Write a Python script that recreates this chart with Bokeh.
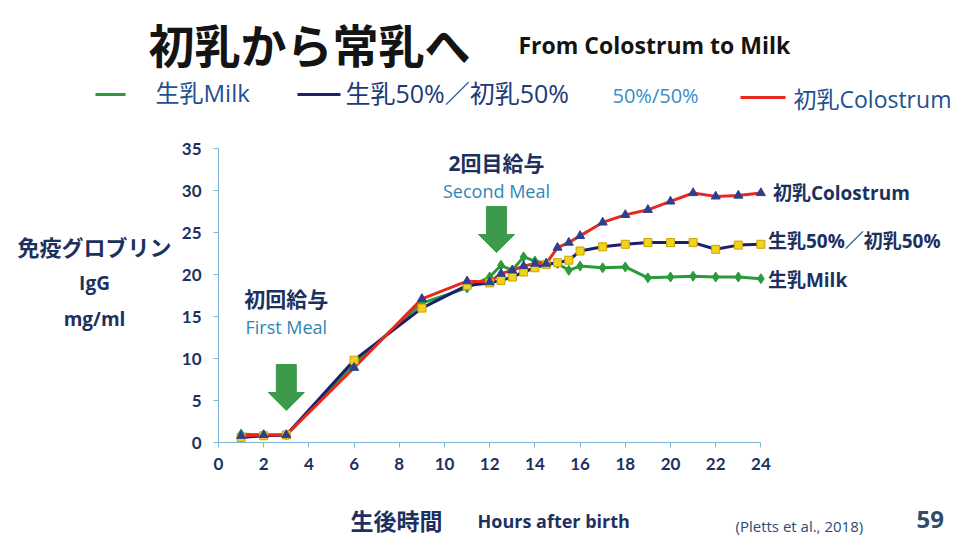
from bokeh.plotting import figure
from bokeh.layouts import column
from bokeh.models import Range1d, FixedTicker
from bokeh.core.properties import value
from bokeh.embed import file_html
from bokeh.resources import INLINE

# ---- data: serum IgG (mg/ml) by hours after birth ----
hours = [1, 2, 3, 6, 9, 11, 12, 12.5, 13, 13.5, 14, 14.5, 15, 15.5,
         16, 17, 18, 19, 20, 21, 22, 23, 24]
milk = [1.0, 0.9, 0.9, 9.4, 16.6, 18.4, 19.7, 21.1, 20.5, 22.1, 21.6, 21.3,
        21.3, 20.5, 21.0, 20.8, 20.9, 19.6, 19.7, 19.8, 19.7, 19.7, 19.5]
blend = [0.6, 0.8, 0.9, 9.8, 16.0, 18.7, 19.0, 19.3, 19.7, 20.3, 20.8, 21.2,
         21.4, 21.7, 22.8, 23.3, 23.6, 23.8, 23.8, 23.8, 23.0, 23.5, 23.6]
colostrum = [0.8, 0.9, 0.9, 8.9, 17.1, 19.2, 19.1, 20.1, 20.5, 21.0, 21.3, 21.3,
             23.2, 23.8, 24.6, 26.2, 27.1, 27.7, 28.7, 29.7, 29.3, 29.4, 29.7]

x_ticks = list(range(0, 25, 2))
y_ticks = list(range(0, 36, 5))

meal_hours = [3, 12.3]
meal_jp = ["初回給与", "2回目給与"]
meal_en = ["First Meal", "Second Meal"]

series_names = ["生乳Milk", "生乳50%／初乳50%", "初乳Colostrum"]

# ---- layout ----
W, H = 957, 535
LEFT, BOTTOM = 218, 93
PX_PER_H = 22.6
PX_PER_U = 8.4
FRAME_W = W - LEFT
FRAME_H = H - BOTTOM


def dy(py):
    return (FRAME_H - py) / PX_PER_U


NAVY_TXT = "#1d3160"
TEAL_TXT = "#2f86b3"
AXIS_C = "#7fb6d6"
RED = "#e8281e"
NAVY = "#1b1f6e"
GREEN = "#2a9a3a"
TRI = "#2f3f8f"
YELLOW = "#f2d21b"
ARROW_G = "#3c9a4b"

JP = "Noto Sans CJK JP"
MIX = "Open Sans, Noto Sans CJK JP"

# ---- main chart ----
p = figure(width=W, height=H, output_backend="svg", toolbar_location=None,
           x_range=Range1d(0, FRAME_W / PX_PER_H),
           y_range=Range1d(0, FRAME_H / PX_PER_U),
           min_border_left=LEFT, min_border_bottom=BOTTOM,
           min_border_top=0, min_border_right=0, frame_align=False)
p.outline_line_color = None
p.grid.visible = False
p.background_fill_color = "white"
p.border_fill_color = "white"

for ax, ticks, top in ((p.xaxis, x_ticks, 24), (p.yaxis, y_ticks, 35)):
    ax.ticker = FixedTicker(ticks=ticks)
    ax.bounds = (0, top)
    ax.axis_line_color = AXIS_C
    ax.major_tick_line_color = AXIS_C
    ax.minor_tick_line_color = None
    ax.major_tick_in = 0
    ax.major_tick_out = 5
    ax.major_label_text_font = "Lato"
    ax.major_label_text_font_style = "bold"
    ax.major_label_text_font_size = "17px"
    ax.major_label_text_color = NAVY_TXT
p.xaxis.major_label_standoff = 10
p.yaxis.major_label_standoff = 12

p.line(hours, milk, line_color=GREEN, line_width=3)
p.line(hours, blend, line_color=NAVY, line_width=3)
p.line(hours, colostrum, line_color=RED, line_width=3)
p.scatter(hours, milk, marker="diamond", size=10, fill_color=GREEN, line_color=GREEN)
p.scatter(hours, blend, marker="square", size=8, fill_color=YELLOW, line_color="#c8a400")
p.scatter(hours, colostrum, marker="triangle", size=9, fill_color=TRI, line_color=TRI)

# series names at the line ends
end_vals = [milk[-1], blend[-1], colostrum[-1]]
p.text(x=[hours[-1]] * 3, y=end_vals, text=series_names, x_offset=[7, 7, 12],
       y_offset=[1, -3, 0], text_font=value(MIX), text_font_style="bold",
       text_font_size="19px", text_color=NAVY_TXT, text_baseline="middle",
       text_align="left")

# feeding arrows
SHAFT_HW, HEAD_HW, HEAD_H, ARROW_H = 10, 18, 18, 46
arrow_tips_px = [410, 252]
for xh, tip in zip(meal_hours, arrow_tips_px):
    top = tip - ARROW_H
    neck = tip - HEAD_H
    xs = [xh - SHAFT_HW / PX_PER_H, xh + SHAFT_HW / PX_PER_H, xh + SHAFT_HW / PX_PER_H,
          xh + HEAD_HW / PX_PER_H, xh, xh - HEAD_HW / PX_PER_H, xh - SHAFT_HW / PX_PER_H]
    ys = [dy(top), dy(top), dy(neck), dy(neck), dy(tip), dy(neck), dy(neck)]
    p.patch(xs, ys, fill_color=ARROW_G, line_color=ARROW_G)

p.text(x=meal_hours, y=[dy(298), dy(162)], text=meal_jp, text_font=value(MIX),
       text_font_style="bold", text_font_size="21px", text_color=NAVY_TXT,
       text_align="center", text_baseline="middle")
p.text(x=meal_hours, y=[dy(326), dy(190)], text=meal_en, text_font=value("Open Sans"),
       text_font_size="18px", text_color=TEAL_TXT,
       text_align="center", text_baseline="middle")

# ---- transparent overlay for the slide texts around the chart ----
o = figure(width=W, height=H, output_backend="svg", toolbar_location=None,
           x_range=Range1d(0, W), y_range=Range1d(H, 0),
           x_axis_type=None, y_axis_type=None,
           min_border=0, margin=(-H, 0, 0, 0), frame_align=False)
o.outline_line_color = None
o.background_fill_alpha = 0
o.border_fill_alpha = 0


def txt(px, py, text, size, color=NAVY_TXT, bold=True, font=MIX, align="left"):
    o.text(x=[px], y=[py], text=[text], text_font=value(font),
           text_font_size=size, text_color=color,
           text_font_style="bold" if bold else "normal",
           text_align=align, text_baseline="middle")


# title
txt(148, 42, "初乳から常乳へ", "46px", color="#141414", font=JP)
txt(518, 44, "From Colostrum to Milk", "23px", color="#141414", font="Open Sans")

# legend row
legend_colors = [GREEN, NAVY, RED]
o.segment(x0=[95, 297, 740], x1=[125, 340, 785], y0=[94, 94, 97], y1=[94, 94, 97],
          line_color=legend_colors, line_width=3)
txt(155, 92, series_names[0], "24px", color="#23508f", bold=False)
txt(345, 92, series_names[1], "25px", color="#1d3a78", bold=False)
txt(612, 95, "50%/50%", "20px", color="#3a8cc4", bold=False, font="Open Sans")
txt(793, 98, series_names[2], "23px", color="#23508f", bold=False)

# y axis title
txt(94, 245, "免疫グロブリン", "22px", font=JP, align="center")
txt(94, 282, "IgG", "19px", font="Open Sans", align="center")
txt(94, 318, "mg/ml", "19px", font="Open Sans", align="center")

# x axis title and footer
txt(350, 519, "生後時間", "23px", font=JP)
txt(477, 520, "Hours after birth", "18px", font="Open Sans")
txt(735, 525, "(Pletts et al., 2018)", "15px", color="#2b4a78", bold=False, font="Open Sans")
txt(916, 519, "59", "24px", color="#2d4b6b", font="Open Sans")

layout = column(p, o)
open("out.html", "w").write(file_html(layout, INLINE))
